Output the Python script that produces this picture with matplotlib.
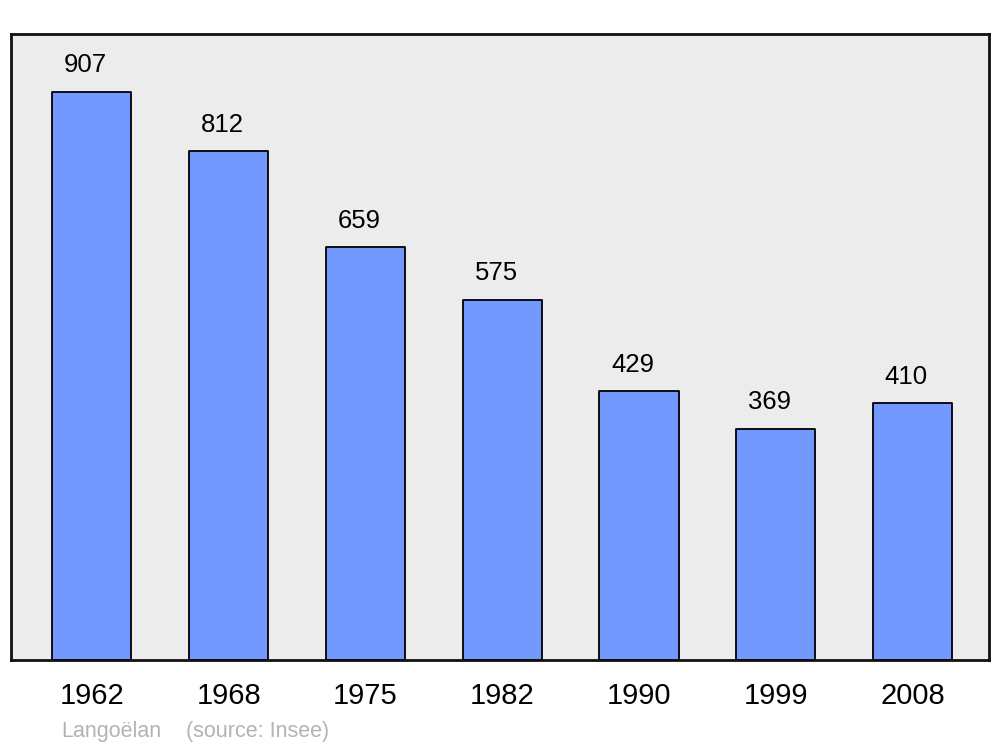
import matplotlib
matplotlib.use("Agg")
import matplotlib.pyplot as plt

plt.rcParams['font.family'] = ['Liberation Sans', 'DejaVu Sans']

years = ["1962", "1968", "1975", "1982", "1990", "1999", "2008"]
population = [907, 812, 659, 575, 429, 369, 410]
commune = "Langoëlan"
source = "(source: Insee)"

fig = plt.figure(figsize=(10, 7.47), dpi=100)
ax = fig.add_axes([0.011, 87 / 747, 0.978, 626 / 747])
ax.set_facecolor("#ececec")

x = list(range(len(years)))
bars = ax.bar(x, population, width=0.578, color="#7399ff", edgecolor="black",
              linewidth=1.3, zorder=2)
for b in bars:
    b.set_joinstyle("round")

for xi, v in zip(x, population):
    ax.annotate(str(v), (xi, v), xytext=(-4.5, 19), textcoords="offset points",
                ha="center", va="center", fontsize=18.5, color="black")

ax.set_xlim(-0.592, 6.559)
ax.set_ylim(0, 999)
ax.set_xticks(x)
ax.set_xticklabels(years, fontsize=21)
ax.tick_params(axis="x", length=0, pad=16)
ax.set_yticks([])
for s in ax.spines.values():
    s.set_linewidth(2)
    s.set_color("#111111")
    s.set_joinstyle("round")

fig.text(61 / 1000, 1 - 731 / 747, commune, fontsize=15.5, color="#b3b3b3",
         va="center", ha="left")
fig.text(186 / 1000, 1 - 731 / 747, source, fontsize=15.5, color="#b3b3b3",
         va="center", ha="left")

fig.savefig("out.png", dpi=100, facecolor="white")
